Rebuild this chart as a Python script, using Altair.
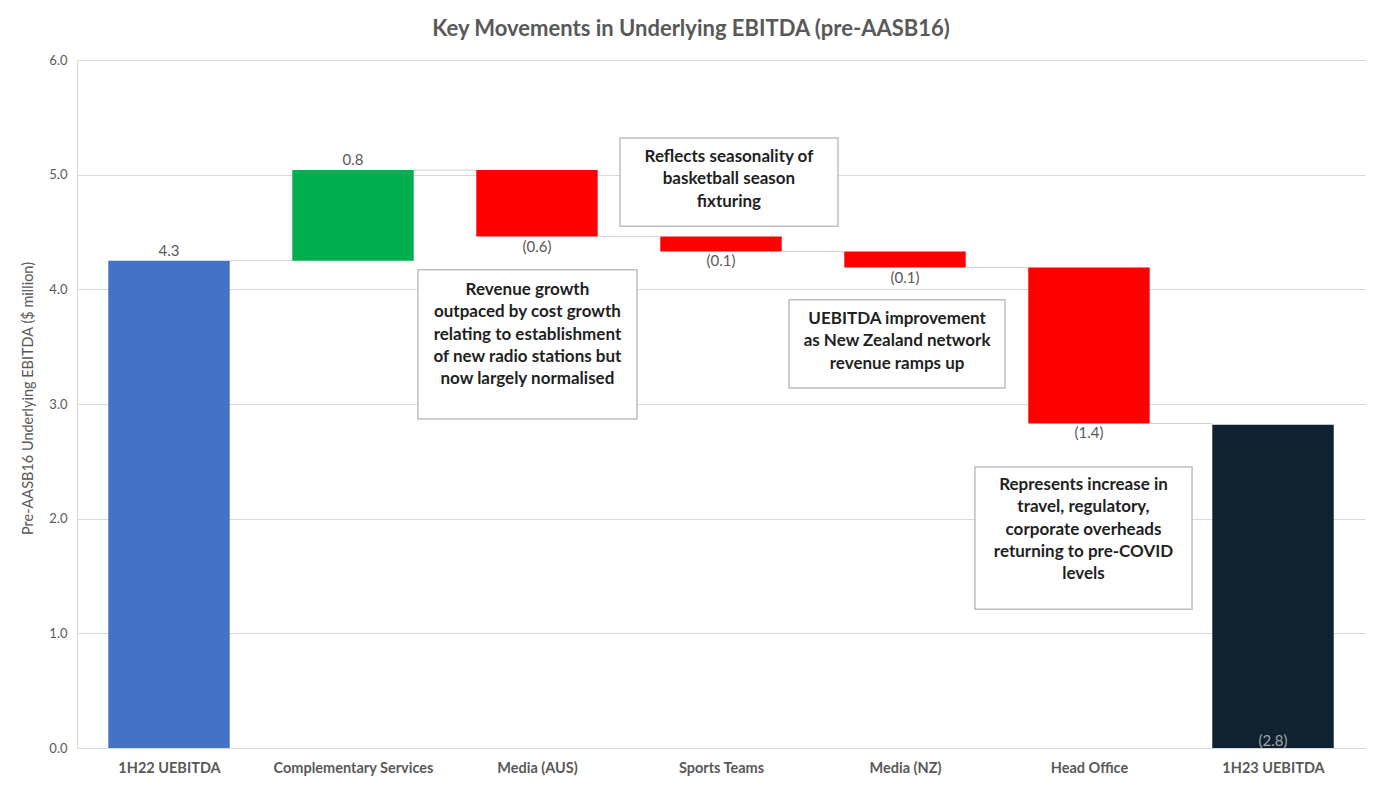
import json
import altair as alt
import pandas as pd

# ---- data ----
categories = ["1H22 UEBITDA", "Complementary Services", "Media (AUS)", "Sports Teams",
              "Media (NZ)", "Head Office", "1H23 UEBITDA"]
kinds = ["start", "up", "down", "down", "down", "down", "end"]
values = [4.25, 0.79, -0.58, -0.13, -0.14, -1.36, 2.82]
value_labels = ["4.3", "0.8", "(0.6)", "(0.1)", "(0.1)", "(1.4)", "(2.8)"]

notes = [
    ["Revenue growth", "outpaced by cost growth", "relating to establishment",
     "of new radio stations but", "now largely normalised"],
    ["Reflects seasonality of", "basketball season", "fixturing"],
    ["UEBITDA improvement", "as New Zealand network", "revenue ramps up"],
    ["Represents increase in", "travel, regulatory,", "corporate overheads",
     "returning to pre-COVID", "levels"],
]
note_x0 = [1.853, 2.951, 3.870, 4.880]
note_x1 = [3.043, 4.136, 5.043, 6.060]
note_ytop = [4.17, 5.32, 3.91, 2.45]
note_ybot = [2.87, 4.55, 3.14, 1.21]
note_tx = [2.448, 3.543, 4.457, 5.470]
note_ty = [3.994, 5.154, 3.741, 2.294]   # first text line of each note

TITLE = "Key Movements in Underlying EBITDA (pre-AASB16)"
YTITLE = "Pre-AASB16 Underlying EBITDA ($ million)"

# ---- build tables ----
HALF = 0.33
rows = []
level = 0.0
for i, (c, k, v, lab) in enumerate(zip(categories, kinds, values, value_labels)):
    if k == "start":
        low, high = 0.0, v
        level = v
    elif k == "end":
        low, high = 0.0, v
    else:
        low, high = min(level, level + v), max(level, level + v)
        level = level + v
    rows.append(dict(cat=c, kind=k, x0=i + 0.5 - HALF, x1=i + 0.5 + HALF, xc=i + 0.5,
                     low=low, high=high, label=lab, after=level))
df = pd.DataFrame(rows)

conn = pd.DataFrame([
    dict(x0=df.x1[i], x1=df.x0[i + 1], y=df.after[i]) for i in range(len(df) - 1)
])

ndf = pd.DataFrame(dict(x0=note_x0, x1=note_x1, ytop=note_ytop, ybot=note_ybot,
                        tx=note_tx, ty=note_ty, text=["\n".join(n) for n in notes]))

FONT = "Lato"
GREY = "#595959"

xscale = alt.Scale(domain=[0, len(categories)], nice=False, zero=False)
yscale = alt.Scale(domain=[0, 6], nice=False)

x_axis = alt.Axis(values=[i + 0.5 for i in range(len(categories))],
                  labelExpr=json.dumps(categories) + "[floor(datum.value)]",
                  title=None, grid=False, domain=False, ticks=False,
                  labelFont=FONT, labelFontSize=14.5, labelFontWeight="bold",
                  labelColor=GREY, labelPadding=13)
y_axis = alt.Axis(values=[0, 1, 2, 3, 4, 5, 6], format=".1f", title=YTITLE,
                  grid=True, gridColor="#d9d9d9", domain=True, domainColor="#d9d9d9",
                  ticks=False, labelFont=FONT, labelFontSize=13, labelColor=GREY,
                  labelPadding=10, titleFont=FONT, titleFontSize=14.5,
                  titleFontWeight="normal", titleColor=GREY, titleX=-49, titleY=338,
                  titleBaseline="middle", titleAlign="center")


def X(field):
    return alt.X(field, type="quantitative", scale=xscale, axis=x_axis, title=None)


def Y(field):
    return alt.Y(field, type="quantitative", scale=yscale, axis=y_axis, title=YTITLE)


bars = alt.Chart(df).mark_bar().encode(
    x=X("x0"), x2="x1", y=Y("low"), y2="high",
    color=alt.Color("kind:N", legend=None,
                    scale=alt.Scale(domain=["start", "up", "down", "end"],
                                    range=["#4472C4", "#00B050", "#FF0000", "#10212F"])),
)

connectors = alt.Chart(conn).mark_rule(color="#d0d0d0", strokeWidth=1).encode(
    x=X("x0"), x2="x1", y=Y("y"),
)

txt = dict(font=FONT, fontSize=15, color=GREY)
lab_above = alt.Chart(df).transform_filter(
    "datum.kind == 'start' || datum.kind == 'up'"
).mark_text(baseline="bottom", dy=-2, **txt).encode(
    x=X("xc"), y=Y("high"), text="label:N")
lab_below = alt.Chart(df).transform_filter("datum.kind == 'down'").mark_text(
    baseline="top", dy=3, **txt).encode(
    x=X("xc"), y=Y("low"), text="label:N")
lab_end = alt.Chart(df).transform_filter("datum.kind == 'end'").mark_text(
    baseline="bottom", dy=1, font=FONT, fontSize=15, color="#a6a6a6").encode(
    x=X("xc"), y=Y("low"), text="label:N")

boxes = alt.Chart(ndf).mark_rect(fill="white", stroke="#bfbfbf", strokeWidth=1.5).encode(
    x=X("x0"), x2="x1", y=Y("ytop"), y2="ybot",
)
note_text = alt.Chart(ndf).mark_text(
    font=FONT, fontSize=17, fontWeight="bold", color="#1f1f1f", lineBreak="\n",
    lineHeight=22.3, align="center", baseline="middle").encode(
    x=X("tx"), y=Y("ty"), text="text:N")

chart = alt.layer(connectors, bars, lab_above, lab_below, lab_end, boxes,
                  note_text).properties(
    width=1288, height=688,
    title=alt.TitleParams(TITLE, font=FONT, fontSize=22, fontWeight="bold", color=GREY,
                          anchor="middle", dx=-30, offset=13),
    autosize=alt.AutoSizeParams(type="none"),
    padding={"left": 69, "top": 52, "right": 9, "bottom": 28},
).configure_view(stroke=None)

chart.save("out.html", embed_options={"renderer": "svg", "actions": False})
